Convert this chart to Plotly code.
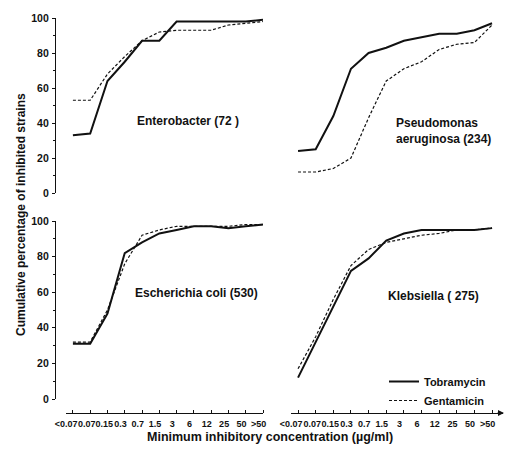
import plotly.graph_objects as go

# ---------------- data ----------------
mic_labels = ["<0.07", "0.07", "0.15", "0.3", "0.7", "1.5", "3", "6", "12", "25", "50", ">50"]
idx = list(range(len(mic_labels)))

entero_tobra = [33, 34, 64, 75, 87, 87, 98, 98, 98, 98, 98, 99]
entero_genta = [53, 53, 68, 78, 87, 92, 93, 93, 93, 96, 97, 98]

pseudo_tobra = [24, 25, 44, 71, 80, 83, 87, 89, 91, 91, 93, 97]
pseudo_genta = [12, 12, 14, 20, 43, 64, 71, 75, 82, 85, 86, 96]

ecoli_tobra = [31, 31, 48, 82, 88, 93, 95, 97, 97, 96, 97, 98]
ecoli_genta = [32, 32, 50, 76, 92, 95, 97, 97, 97, 97, 98, 98]

kleb_tobra = [12, 32, 52, 72, 79, 89, 93, 95, 95, 95, 95, 96]
kleb_genta = [17, 35, 56, 75, 84, 88, 90, 92, 93, 95, 95, 96]

y_ticks = [0, 20, 40, 60, 80, 100]

panels = [
    ("x", "y", entero_tobra, entero_genta),
    ("x2", "y2", pseudo_tobra, pseudo_genta),
    ("x3", "y3", ecoli_tobra, ecoli_genta),
    ("x4", "y4", kleb_tobra, kleb_genta),
]

# ---------------- layout helpers ----------------
# the page body has an 8px margin; positions below are given in page pixels
PAD = 8
W, H = 513 - 2 * PAD, 455 - 2 * PAD
def fx(p):
    return (p - PAD) / W
def fy(p):
    return 1 - (p - PAD) / H

FONT = "Liberation Sans, Arial, sans-serif"
INK = "#111111"

fig = go.Figure()
for i, (xa, ya, tob, gen) in enumerate(panels):
    fig.add_trace(go.Scatter(x=idx, y=tob, xaxis=xa, yaxis=ya, mode="lines",
                             line=dict(color=INK, width=2), name="Tobramycin",
                             showlegend=(i == 0), legendgroup="t"))
    fig.add_trace(go.Scatter(x=idx, y=gen, xaxis=xa, yaxis=ya, mode="lines",
                             line=dict(color=INK, width=1.2, dash="3px,2px"), name="Gentamicin",
                             showlegend=(i == 0), legendgroup="g"))

# label placement: typeset slightly left of the category marks, as in the original
label_pos = [i - 0.25 for i in idx]
label_pos[0] = -0.39
label_pos[1] = 0.8
label_pos[2] = 1.82

left_dom = [fx(66), fx(263)]
right_dom = [fx(291), fx(503)]
left_rng = [-0.4, 11]
right_rng = [-0.4, 11.62]
top_dom = [fy(193), fy(18)]
bot_dom = [fy(399), fy(221)]

xtick_common = dict(
    tickmode="array", tickvals=label_pos, ticktext=mic_labels, tickangle=0,
    ticks="", showline=True, linecolor=INK, linewidth=1.2,
    minor=dict(tickmode="array", tickvals=idx, ticks="inside", ticklen=3,
               tickcolor=INK, tickwidth=1, showgrid=False),
    showgrid=False, zeroline=False,
    tickfont=dict(family=FONT, size=9, color=INK, weight="bold"),
    anchor="free", position=fy(413), automargin=False, ticklabelstandoff=2,
)
ytick_common = dict(
    range=[0, 100], tickmode="array", tickvals=y_ticks,
    showline=True, linecolor=INK, linewidth=1.2, ticks="outside", ticklen=3,
    tickcolor=INK, tickwidth=1, showgrid=False, zeroline=False,
    minor=dict(dtick=10, ticks="outside", ticklen=2, tickcolor=INK, tickwidth=1),
    tickfont=dict(family=FONT, size=10.5, color=INK, weight="bold"),
    anchor="free", position=fx(55), ticklabelstandoff=1, automargin=False,
)
hidden = dict(visible=False, automargin=False)

fig.update_layout(
    template="none",
    width=W, height=H,
    margin=dict(l=0, r=0, t=0, b=0, pad=0),
    paper_bgcolor="white", plot_bgcolor="white",
    xaxis=dict(domain=left_dom, range=left_rng, anchor="y", **hidden),
    yaxis=dict(domain=top_dom, **ytick_common),
    xaxis2=dict(domain=right_dom, range=right_rng, anchor="y2", **hidden),
    yaxis2=dict(domain=top_dom, range=[0, 100], anchor="x2", **hidden),
    xaxis3=dict(domain=left_dom, range=left_rng, **xtick_common),
    yaxis3=dict(domain=bot_dom, **ytick_common),
    xaxis4=dict(domain=right_dom, range=right_rng, **xtick_common),
    yaxis4=dict(domain=bot_dom, range=[0, 100], anchor="x4", **hidden),
    showlegend=True,
    legend=dict(x=fx(384), y=fy(367), xanchor="left", yanchor="top",
                bgcolor="rgba(0,0,0,0)", itemwidth=30, tracegroupgap=0,
                font=dict(family=FONT, size=11, color=INK, weight="bold")),
)

lab_font = dict(family=FONT, size=12, color=INK, weight="bold")
title_font = dict(family=FONT, size=12.5, color=INK, weight="bold")
annotations = [
    dict(text="Enterobacter (72 )", x=fx(188), y=fy(121), font=lab_font),
    dict(text="Pseudomonas<br>aeruginosa (234)", x=fx(394), y=fy(131), xanchor="left",
         align="left", font=lab_font),
    dict(text="Escherichia coli (530)", x=fx(196), y=fy(293), font=lab_font),
    dict(text="Klebsiella ( 275)", x=fx(433), y=fy(296), font=lab_font),
    dict(text="Minimum inhibitory concentration (µg/ml)", x=fx(270), y=fy(437), font=title_font),
    dict(text="Cumulative percentage of inhibited strains", x=fx(21), y=fy(215),
         textangle=-90, font=dict(family=FONT, size=12, color=INK, weight="bold")),
]
for a in annotations:
    a.setdefault("xanchor", "center")
    a.update(xref="paper", yref="paper", showarrow=False, yanchor="middle")
    fig.add_annotation(**a)

# arrow head at end of right x-axis
fig.add_annotation(x=fx(504), y=fy(413), xref="paper", yref="paper", ax=-8, ay=0,
                   showarrow=True, arrowhead=2, arrowsize=1, arrowwidth=1.2,
                   arrowcolor=INK, text="")

fig.write_html("out.html")
